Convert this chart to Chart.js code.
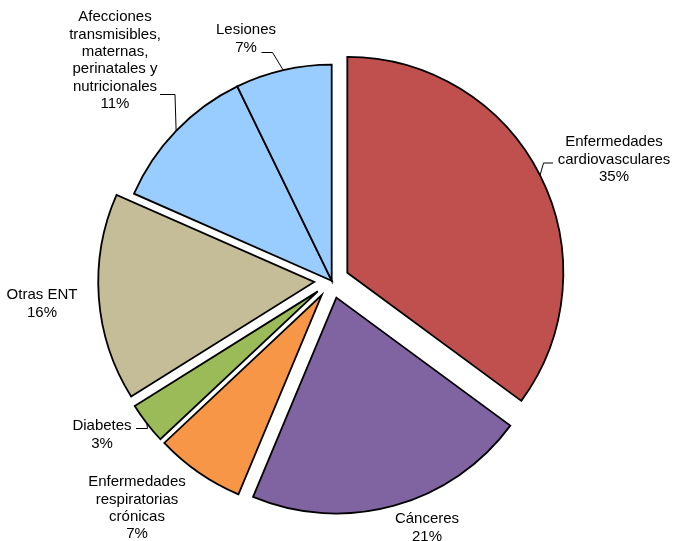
<!DOCTYPE html>
<html>
<head>
<meta charset="utf-8">
<script src="https://cdn.jsdelivr.net/npm/chart.js@4"></script>
<style>
  body { margin: 0; background: #fff; }
  #wrap { width: 689px; height: 541px; position: relative; }
</style>
</head>
<body>
<div id="wrap"><canvas id="graphique_mortalidad"></canvas></div>
<script>
// données du graphique
const categorias = [
    'Enfermedades cardiovasculares',
    'Cánceres',
    'Enfermedades respiratorias crónicas',
    'Diabetes',
    'Otras ENT',
    'Afecciones transmisibles, maternas, perinatales y nutricionales',
    'Lesiones'
];
const porcentajes = [35.1, 21.2, 6.7, 3.1, 15.5, 11.2, 7.2];
// pourcentages affichés sur le graphique
const pctTexto = ['35%', '21%', '7%', '3%', '16%', '11%', '7%'];

// lignes des étiquettes (texte affiché)
const etiquetas = [
    ['Enfermedades', 'cardiovasculares'],
    ['Cánceres'],
    ['Enfermedades', 'respiratorias', 'crónicas'],
    ['Diabetes'],
    ['Otras ENT'],
    ['Afecciones', 'transmisibles,', 'maternas,', 'perinatales y', 'nutricionales'],
    ['Lesiones']
];

const couleurs = ['#C0504D', '#8064A2', '#F79646', '#9BBB59', '#C4BD97', '#99CCFF', '#99CCFF'];
const eclatement = [17.5, 17.5, 17.5, 17.5, 17.5, 0, 0];

// position du texte : centre x, y de la 1re ligne, coude de la ligne de rappel
const posEtiquettes = [
    { x: 614, y: 142, coude: [[553, 163], [543.5, 163]] },
    { x: 427, y: 519, coude: null },
    { x: 137, y: 482, coude: null },
    { x: 102, y: 426, coude: [[136, 428.5], [147.5, 428.5]] },
    { x: 42, y: 295, coude: null },
    { x: 115, y: 17, coude: [[160, 94.5], [175, 94.5]] },
    { x: 246, y: 30, coude: [[261.5, 52.5], [272.5, 52.5]] }
];

// pour éclater les parts
const pluginEclate = {
    id: 'eclate',
    beforeDatasetDraw(chart, args) {
        const ctx = chart.ctx;
        const meta = chart.getDatasetMeta(args.index);
        meta.data.forEach((arc, i) => {
            const mid = (arc.startAngle + arc.endAngle) / 2;
            const d = eclatement[i];
            ctx.save();
            ctx.translate(Math.cos(mid) * d, Math.sin(mid) * d);
            arc.draw(ctx, chart.chartArea);
            ctx.restore();
        });
        return false;
    }
};

// étiquettes + lignes de rappel
const pluginEtiquettes = {
    id: 'etiquettes',
    afterDraw(chart) {
        const ctx = chart.ctx;
        const meta = chart.getDatasetMeta(0);
        ctx.save();
        meta.data.forEach((arc, i) => {
            const p = posEtiquettes[i];
            if (p.coude) {
                const mid = (arc.startAngle + arc.endAngle) / 2;
                const r = arc.outerRadius;
                const ex = arc.x + Math.cos(mid) * (r + eclatement[i]);
                const ey = arc.y + Math.sin(mid) * (r + eclatement[i]);
                ctx.beginPath();
                ctx.moveTo(p.coude[0][0], p.coude[0][1]);
                ctx.lineTo(p.coude[1][0], p.coude[1][1]);
                ctx.lineTo(ex, ey);
                ctx.strokeStyle = '#000';
                ctx.lineWidth = 1;
                ctx.stroke();
            }
            const lignes = etiquetas[i].concat([pctTexto[i]]);
            ctx.fillStyle = '#000';
            ctx.font = '15px "Liberation Sans", Arial, sans-serif';
            ctx.textAlign = 'center';
            ctx.textBaseline = 'middle';
            lignes.forEach((t, k) => {
                ctx.fillText(t, p.x, p.y + k * 17.4);
            });
        });
        ctx.restore();
    }
};

const graph = document.getElementById('graphique_mortalidad');

new Chart(graph, {
    type: 'pie',
    data: {
        labels: categorias,
        datasets: [{
            data: porcentajes,
            backgroundColor: couleurs,
            borderColor: '#000',
            borderWidth: 1.8,
            borderJoinStyle: 'miter',
        }]
    },
    options: {
        responsive: true,
        maintainAspectRatio: false,
        animation: false,
        radius: 216,
        layout: {
            padding: { left: 0, right: 25.6, top: 20.4, bottom: 0 }
        },
        plugins: {
            legend: { display: false },
            tooltip: { enabled: false },
        },
    },
    plugins: [pluginEclate, pluginEtiquettes]
});
</script>
</body>
</html>
